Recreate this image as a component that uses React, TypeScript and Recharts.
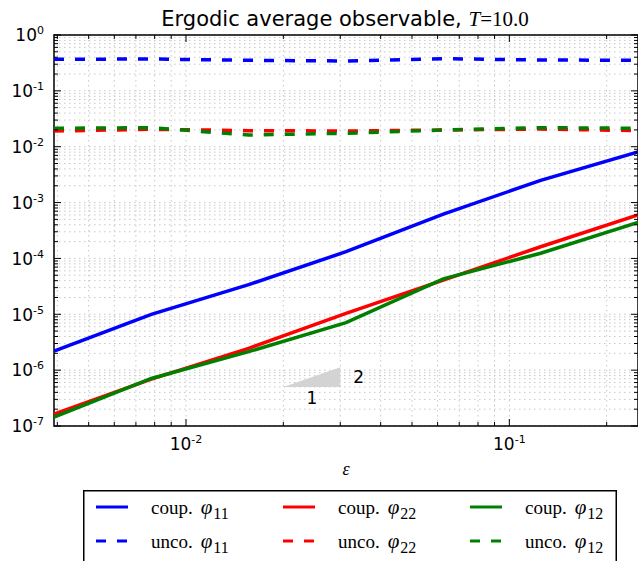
import { LineChart, Line, XAxis, YAxis, CartesianGrid, ReferenceArea, Label, Legend } from 'recharts';

// epsilon values (2^-8 ... 2^-2)
const eps = [0.00390625, 0.0078125, 0.015625, 0.03125, 0.0625, 0.125, 0.25];

const coup11 = [2.2e-6, 1.0e-5, 3.4e-5, 1.32e-4, 6.2e-4, 2.5e-3, 8.1e-3];
const unco11 = [0.367, 0.372, 0.352, 0.343, 0.376, 0.357, 0.352];
const coup22 = [1.64e-7, 6.9e-7, 2.46e-6, 1.04e-5, 4.1e-5, 1.62e-4, 6.0e-4];
const unco22 = [0.0191, 0.0205, 0.0194, 0.0191, 0.0199, 0.0207, 0.0194];
const coup12 = [1.44e-7, 7.1e-7, 2.14e-6, 7.1e-6, 4.3e-5, 1.24e-4, 4.4e-4];
const unco12 = [0.0214, 0.0219, 0.0162, 0.0174, 0.0199, 0.0219, 0.0214];

const xMajor = [0.01, 0.1];
const xMajorLabels = ['-2', '-1'];
const xMinor = [0.004, 0.005, 0.006, 0.007, 0.008, 0.009, 0.02, 0.03, 0.04, 0.05, 0.06, 0.07, 0.08, 0.09, 0.2];

const yMajor = [1e-7, 1e-6, 1e-5, 1e-4, 1e-3, 1e-2, 1e-1, 1];
const yMajorLabels = ['-7', '-6', '-5', '-4', '-3', '-2', '-1', '0'];
const yMinorMult = [2, 3, 4, 5, 6, 7, 8, 9];

// slope-2 triangle
const slopeX = [0.02, 0.03];
const slopeY = [5e-7, 1.125e-6];
const slopeLabels = ['1', '2'];

const series = [
  { key: 'c11', prefix: 'coup.', sub: '11', color: '#0000ff', dash: undefined },
  { key: 'u11', prefix: 'unco.', sub: '11', color: '#0000ff', dash: '10 11' },
  { key: 'c22', prefix: 'coup.', sub: '22', color: '#ff0000', dash: undefined },
  { key: 'u22', prefix: 'unco.', sub: '22', color: '#ff0000', dash: '10 11' },
  { key: 'c12', prefix: 'coup.', sub: '12', color: '#008000', dash: undefined },
  { key: 'u12', prefix: 'unco.', sub: '12', color: '#008000', dash: '10 11' },
];

const data = eps.map((e, i) => ({
  eps: e,
  c11: coup11[i],
  u11: unco11[i],
  c22: coup22[i],
  u22: unco22[i],
  c12: coup12[i],
  u12: unco12[i],
}));

const yMinor = yMajor.slice(0, -1).flatMap((d) => yMinorMult.map((m) => m * d));
const xTicks = [...xMajor, ...xMinor].sort((a, b) => a - b);
const yTicks = [...yMajor, ...yMinor].sort((a, b) => a - b);

const PLOT = { left: 54, right: 638, top: 35, bottom: 426 };
const TICK_FONT = 'DejaVu Sans, sans-serif';
const MATH_FONT = 'Liberation Serif, serif';

function XTick(props: any) {
  const { x, payload } = props;
  const idx = xMajor.indexOf(payload.value);
  const len = idx >= 0 ? 7 : 4;
  return (
    <g>
      <line x1={x} x2={x} y1={PLOT.bottom} y2={PLOT.bottom - len} stroke="#000" />
      <line x1={x} x2={x} y1={PLOT.top} y2={PLOT.top + len} stroke="#000" />
      {idx >= 0 && (
        <text x={x} y={PLOT.bottom + 24} textAnchor="middle" fontFamily={TICK_FONT} fontSize={17} fill="#000">
          10
          <tspan dy={-7} fontSize={11}>
            {xMajorLabels[idx]}
          </tspan>
        </text>
      )}
    </g>
  );
}

function YTick(props: any) {
  const { y, payload } = props;
  const idx = yMajor.indexOf(payload.value);
  const len = idx >= 0 ? 7 : 4;
  return (
    <g>
      <line x1={PLOT.left} x2={PLOT.left + len} y1={y} y2={y} stroke="#000" />
      <line x1={PLOT.right} x2={PLOT.right - len} y1={y} y2={y} stroke="#000" />
      {idx >= 0 && (
        <text x={PLOT.left - 10} y={y + 6.3} textAnchor="end" fontFamily={TICK_FONT} fontSize={17} fill="#000">
          10
          <tspan dy={-7} fontSize={11}>
            {yMajorLabels[idx]}
          </tspan>
        </text>
      )}
    </g>
  );
}

function LegendBox() {
  return (
    <svg width={534} height={80} style={{ display: 'block' }}>
      <rect x={0.75} y={0.75} width={532.5} height={120} fill="#fff" stroke="#000" strokeWidth={1.5} />
      {series.map((s, i) => {
        const col = Math.floor(i / 2);
        const row = i % 2;
        const lx = 13 + col * 187;
        const ly = 17 + row * 34;
        return (
          <g key={s.key}>
            <line x1={lx} x2={lx + 32} y1={ly} y2={ly} stroke={s.color} strokeWidth={3} strokeDasharray={s.dash} />
            <text x={lx + 55} y={ly + 7} fontFamily={MATH_FONT} fontSize={19} fill="#000">
              {s.prefix}
              <tspan dx={8} fontStyle="italic" fontSize={21}>
                φ
              </tspan>
              <tspan fontSize={16} dx={1} dy={5}>
                {s.sub}
              </tspan>
            </text>
          </g>
        );
      })}
    </svg>
  );
}

function SlopeTriangle(p: any) {
  const { x, y, width, height } = p;
  return <polygon points={`${x},${y + height} ${x + width},${y + height} ${x + width},${y}`} fill="#d3d3d3" />;
}

export default function App() {
  return (
    <div style={{ position: 'absolute', left: 0, top: 0, width: 638, height: 561, overflow: 'hidden', background: '#fff' }}>
      <LineChart width={638} height={561} data={data} margin={{ top: 35, right: 0, bottom: 85, left: 0 }}>
        <CartesianGrid stroke="#c8c8c8" strokeDasharray="1.5 3.5" />
        <XAxis
          dataKey="eps"
          type="number"
          scale="log"
          domain={[eps[0], eps[eps.length - 1]]}
          allowDataOverflow
          ticks={xTicks}
          interval={0}
          tick={<XTick />}
          tickLine={false}
          axisLine={false}
          tickSize={0}
          tickMargin={0}
          height={50}
        >
          <Label value="ε" position="insideBottom" offset={1} fontSize={18} fontStyle="italic" fontFamily={MATH_FONT} fill="#000" />
        </XAxis>
        <YAxis
          type="number"
          scale="log"
          domain={[yMajor[0], yMajor[yMajor.length - 1]]}
          allowDataOverflow
          ticks={yTicks}
          interval={0}
          tick={<YTick />}
          tickLine={false}
          axisLine={false}
          tickSize={0}
          tickMargin={0}
          width={54}
        />
        {series.map((s) => (
          <Line
            key={s.key}
            dataKey={s.key}
            type="linear"
            stroke={s.color}
            strokeWidth={3.5}
            strokeDasharray={s.dash}
            dot={false}
            activeDot={false}
            isAnimationActive={false}
          />
        ))}
        <ReferenceArea x1={slopeX[0]} x2={slopeX[1]} y1={slopeY[0]} y2={slopeY[1]} shape={<SlopeTriangle />}>
          <Label value={slopeLabels[0]} position="bottom" offset={5} fontSize={17} fontFamily={TICK_FONT} fill="#000" />
          <Label value={slopeLabels[1]} position="right" offset={13} fontSize={17} fontFamily={TICK_FONT} fill="#000" />
        </ReferenceArea>
        <ReferenceArea
          x1={eps[0]}
          x2={eps[eps.length - 1]}
          y1={yMajor[0]}
          y2={yMajor[yMajor.length - 1]}
          fill="none"
          fillOpacity={0}
          stroke="#000"
          strokeWidth={1.5}
        />
        <Legend
          layout="horizontal"
          verticalAlign="middle"
          align="center"
          wrapperStyle={{ left: 83, top: 490, width: 534, height: 80 }}
          content={<LegendBox />}
        />
      </LineChart>
      <svg width={638} height={40} style={{ position: 'absolute', left: 0, top: 0 }}>
        <text x={345} y={26} textAnchor="middle" fontFamily={TICK_FONT} fontSize={21} fill="#000">
          Ergodic average observable,{' '}
          <tspan fontFamily={MATH_FONT} fontStyle="italic">
            T
          </tspan>
          <tspan fontFamily={MATH_FONT}>=10.0</tspan>
        </text>
      </svg>
    </div>
  );
}
